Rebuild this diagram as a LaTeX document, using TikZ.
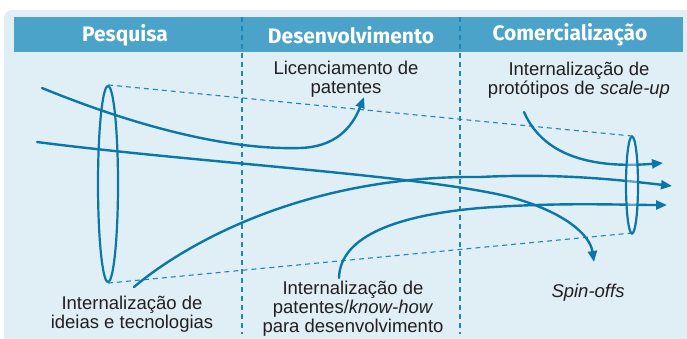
\documentclass[tikz,border=0pt]{standalone}
\usepackage{fontspec}
\setmainfont{Liberation Sans}
\newfontfamily\headfont{Fira Sans}
\usetikzlibrary{arrows.meta, calc, shapes.geometric}
\definecolor{panelblue}{RGB}{224,238,246}
\definecolor{barblue}{RGB}{75,163,201}
\definecolor{flowblue}{RGB}{11,119,168}
\definecolor{dashblue}{RGB}{33,133,186}
\definecolor{textgray}{RGB}{35,31,32}

\begin{document}
\begin{tikzpicture}[x=1pt, y=-1pt,
        flow/.style={line width=2.4, draw=flowblue, line cap=round},
        flowarrow/.style={flow, -{Triangle[length=11pt, width=9pt]}},
        guide/.style={line width=1.1, dashblue, dash pattern=on 5pt off 4pt},
        gate/.style={ellipse, draw=flowblue, line width=2.2, inner sep=0pt},
        label/.style={font=\fontsize{18.5}{19}\selectfont, text=textgray, align=center, inner sep=0pt},
        heading/.style={font=\headfont\bfseries\fontsize{21}{21}\selectfont, text=white, inner sep=0pt}]
            \useasboundingbox (0,0) rectangle (687,338);
            \fill[panelblue, rounded corners=8pt] (4,10) rectangle (700,350);
            \fill[barblue] (14,17) rectangle (683,52);

            \node[heading] (pesq) at (125,35) {Pesquisa};
            \node[heading] (desenv) at (351,35) {Desenvolvimento};
            \node[heading] (comerc) at (570,35) {Comercialização};

            \draw[guide] (242,17) -- (242,334);
            \draw[guide] (460,17) -- (460,334);

            \node[gate, minimum width=20pt, minimum height=196pt] (gateIn) at (108,184) {};
            \coordinate (gateOutTop) at (632,136);
            \coordinate (gateOutBot) at (632,233);
            \draw[guide] (gateIn.north) -- (gateOutTop);
            \draw[guide] (gateIn.south) -- (gateOutBot);

            \draw[flowarrow] (42,88) .. controls (140,128) and (230,150) .. (300,148)
                .. controls (335,147) and (352,128) .. (364,97);
            \draw[flowarrow] (37,142) .. controls (200,163) and (420,175) .. (510,197)
                .. controls (565,212) and (590,235) .. (594,262);
            \draw[flowarrow] (134,287) .. controls (180,248) and (300,175) .. (480,177)
                .. controls (560,173) and (620,180) .. (672,186);
            \draw[flowarrow] (339,278) .. controls (340,235) and (400,215) .. (480,208)
                .. controls (560,202) and (620,205) .. (667,205);
            \draw[flowarrow] (524,112) .. controls (545,160) and (600,168) .. (663,163);

            \node[gate, minimum width=12pt, minimum height=97pt, fill=white, fill opacity=0.35] (gateOut) at (632,185) {};

            \node[label] (licenc) at (346,79) {Licenciamento de\\patentes};
            \node[label] (proto) at (579,80.6) {Internalização de\\protótipos de \textit{scale-up}};
            \node[label] (ideias) at (132,314.6) {Internalização de\\ideias e tecnologias};
            \node[label] (knowhow) at (353,309) {Internalização de\\patentes/\textit{know-how}\\para desenvolvimento};
            \node[label] (spin) at (588,293) {\textit{Spin-offs}};
        \end{tikzpicture}
\end{document}
